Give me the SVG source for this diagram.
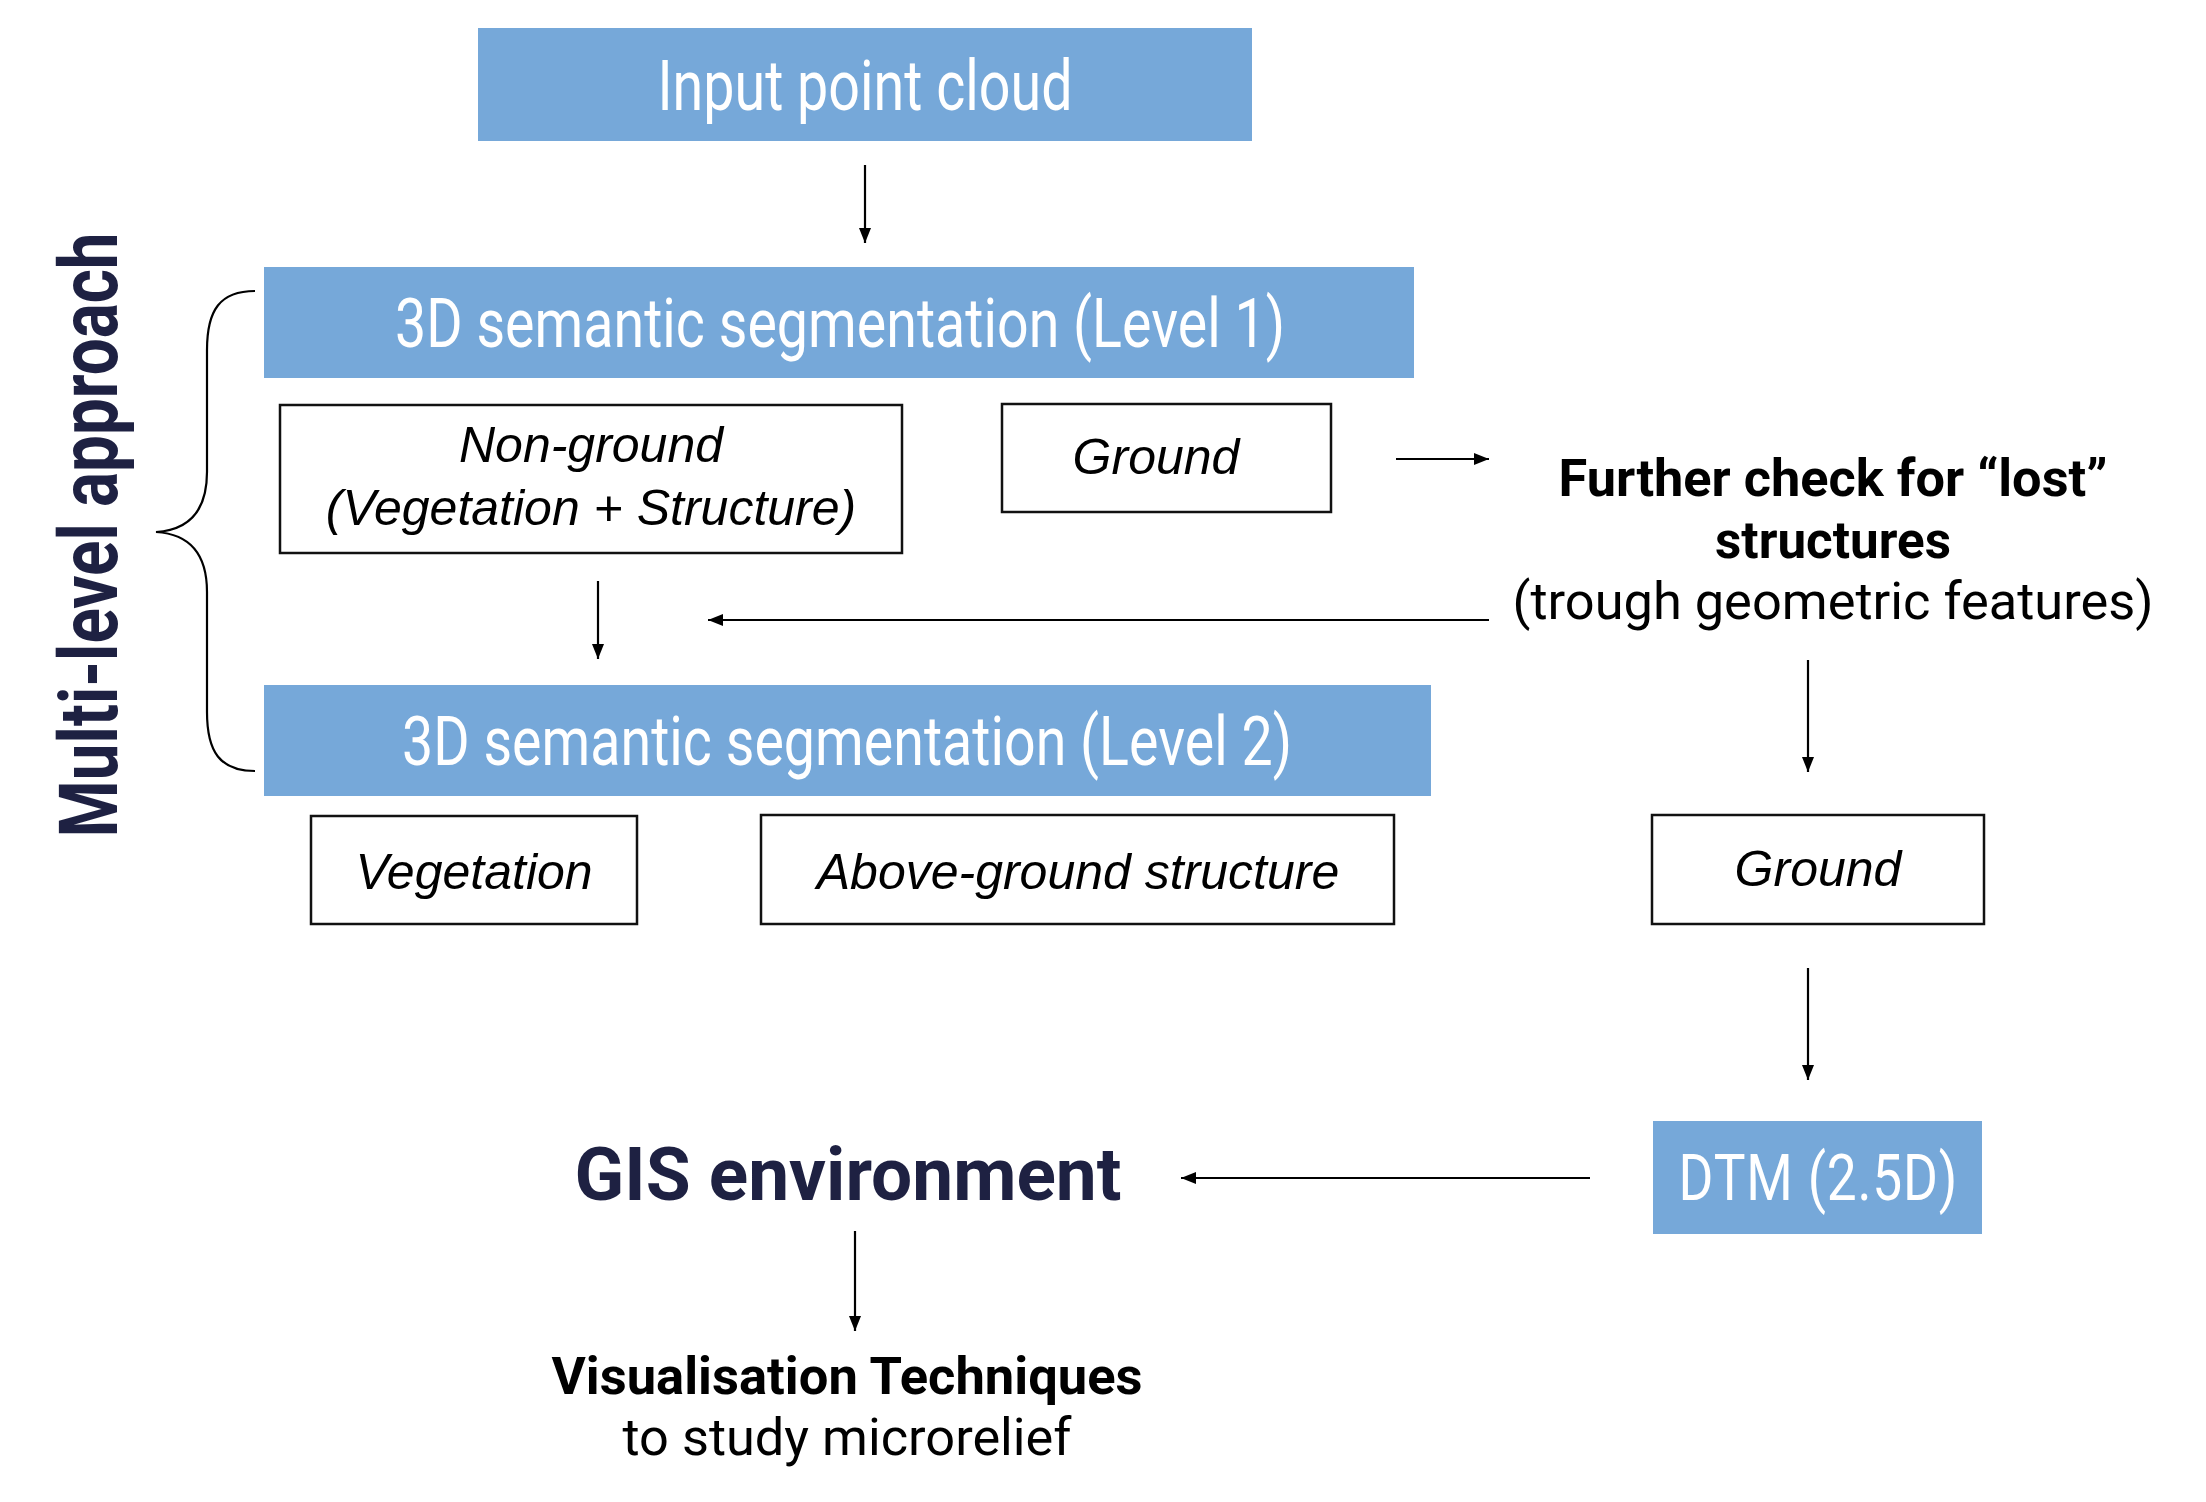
<svg xmlns="http://www.w3.org/2000/svg" width="2206" height="1502" viewBox="0 0 2206 1502">
<style>
.blue{fill:#76a8d9;}
.btxt{font-family:Roboto,"Liberation Sans",sans-serif;fill:#ffffff;text-anchor:middle;}
.box{fill:#ffffff;stroke:#111;stroke-width:2.5;}
.itxt{font-family:"Liberation Sans",Arial,sans-serif;font-style:italic;font-size:50px;fill:#000;text-anchor:middle;}
.bold{font-family:Roboto,"Liberation Sans",sans-serif;font-weight:bold;fill:#000;text-anchor:middle;}
.reg{font-family:Roboto,"Liberation Sans",sans-serif;fill:#000;text-anchor:middle;}
.navy{fill:#1e2142;}
.conn{stroke:#000;stroke-width:2.2;fill:none;}
</style>
<defs>
<marker id="ah" markerUnits="userSpaceOnUse" markerWidth="16" markerHeight="12" refX="15" refY="6" orient="auto">
<path d="M0,0 L15,6 L0,12 z" fill="#000"/>
</marker>
</defs>
<rect width="2206" height="1502" fill="#fff"/>

<g id="input">
<rect class="blue" x="478" y="28" width="774" height="113"/>
<text class="btxt" x="865" y="110" font-size="70" textLength="415" lengthAdjust="spacingAndGlyphs">Input point cloud</text>
</g>

<g id="level1">
<rect class="blue" x="264" y="267" width="1150" height="111"/>
<text class="btxt" x="840" y="347" font-size="69" textLength="890" lengthAdjust="spacingAndGlyphs">3D semantic segmentation (Level 1)</text>
</g>

<g id="nonground">
<rect class="box" x="280" y="405" width="622" height="148"/>
<text class="itxt" x="591" y="462">Non-ground</text>
<text class="itxt" x="591" y="525">(Vegetation + Structure)</text>
</g>

<g id="ground1">
<rect class="box" x="1002" y="404" width="329" height="108"/>
<text class="itxt" x="1156" y="474">Ground</text>
</g>

<g id="furthercheck">
<text class="bold" x="1833" y="496" font-size="52" textLength="549" lengthAdjust="spacingAndGlyphs">Further check for “lost”</text>
<text class="bold" x="1833" y="558" font-size="52" textLength="236" lengthAdjust="spacingAndGlyphs">structures</text>
<text class="reg" x="1833" y="619" font-size="52" textLength="641" lengthAdjust="spacingAndGlyphs">(trough geometric features)</text>
</g>

<g id="level2">
<rect class="blue" x="264" y="685" width="1167" height="111"/>
<text class="btxt" x="847" y="765" font-size="69" textLength="890" lengthAdjust="spacingAndGlyphs">3D semantic segmentation (Level 2)</text>
</g>

<g id="vegetation">
<rect class="box" x="311" y="816" width="326" height="108"/>
<text class="itxt" x="474" y="889">Vegetation</text>
</g>

<g id="aboveground">
<rect class="box" x="761" y="815" width="633" height="109"/>
<text class="itxt" x="1078" y="889">Above-ground structure</text>
</g>

<g id="ground2">
<rect class="box" x="1652" y="815" width="332" height="109"/>
<text class="itxt" x="1818" y="886">Ground</text>
</g>

<g id="dtm">
<rect class="blue" x="1653" y="1121" width="329" height="113"/>
<text class="btxt" transform="translate(1818,1200) scale(0.82,1)" x="0" y="0" font-size="65" textLength="340" lengthAdjust="spacing">DTM (2.5D)</text>
</g>

<g id="gis">
<text class="bold navy" x="848" y="1200" font-size="74" textLength="547" lengthAdjust="spacingAndGlyphs">GIS environment</text>
</g>

<g id="visualisation">
<text class="bold" x="847" y="1394" font-size="52" textLength="591" lengthAdjust="spacingAndGlyphs">Visualisation Techniques</text>
<text class="reg" x="847" y="1455" font-size="52" textLength="449" lengthAdjust="spacingAndGlyphs">to study microrelief</text>
</g>

<g id="multilevel">
<text class="bold navy" transform="translate(117,535) rotate(-90)" x="0" y="0" font-size="82" textLength="605" lengthAdjust="spacingAndGlyphs">Multi-level approach</text>
<path class="conn" d="M255,291 C220,291 207,310 207,350 L207,472 C207,512 188,530 156,532 C188,534 207,552 207,592 L207,712 C207,752 220,771 255,771"/>
</g>

<g id="connectors">
<line class="conn" x1="865" y1="165" x2="865" y2="243" marker-end="url(#ah)"/>
<line class="conn" x1="1396" y1="459" x2="1489" y2="459" marker-end="url(#ah)"/>
<line class="conn" x1="1489" y1="620" x2="708" y2="620" stroke-width="3" marker-end="url(#ah)"/>
<line class="conn" x1="598" y1="581" x2="598" y2="659" marker-end="url(#ah)"/>
<line class="conn" x1="1808" y1="660" x2="1808" y2="772" marker-end="url(#ah)"/>
<line class="conn" x1="1808" y1="968" x2="1808" y2="1080" marker-end="url(#ah)"/>
<line class="conn" x1="1590" y1="1178" x2="1181" y2="1178" marker-end="url(#ah)"/>
<line class="conn" x1="855" y1="1231" x2="855" y2="1331" marker-end="url(#ah)"/>
</g>
</svg>
